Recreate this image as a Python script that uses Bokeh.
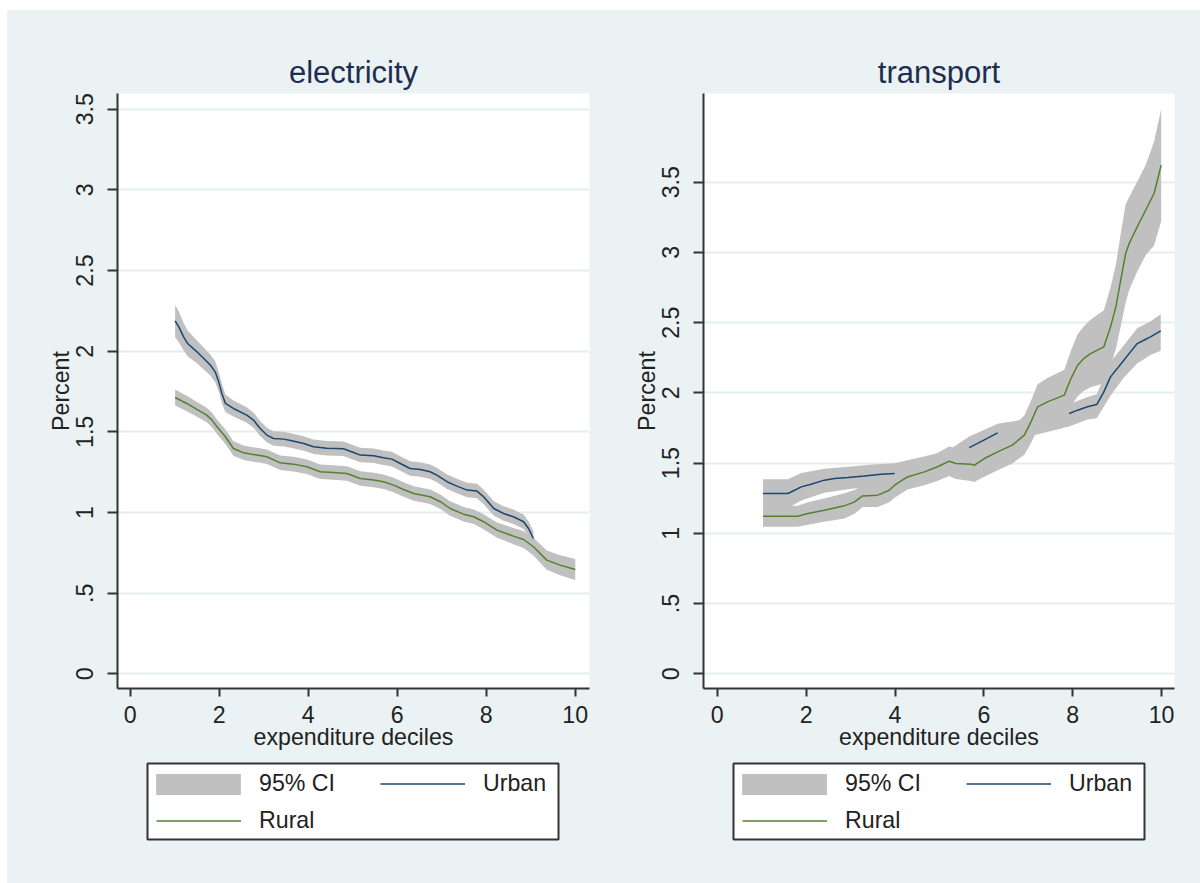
from bokeh.plotting import figure
from bokeh.models import Range1d, FixedTicker, Legend, LegendItem, Spacer
from bokeh.layouts import column, row
from bokeh.embed import file_html
from bokeh.resources import INLINE

# ---------------- data ----------------
x_ticks = [0, 2, 4, 6, 8, 10]
y_ticks = [0, 0.5, 1, 1.5, 2, 2.5, 3, 3.5]
y_tick_labels = ["0", ".5", "1", "1.5", "2", "2.5", "3", "3.5"]

panel_titles = ["electricity", "transport"]
x_label = "expenditure deciles"
y_label = "Percent"
legend_labels = ["95% CI", "Urban", "Rural"]

# electricity - urban
elec_urban_x = [1.01, 1.09, 1.20, 1.29, 1.50, 1.80, 1.91, 1.99, 2.06, 2.14, 2.32, 2.62, 2.77,
                2.92, 3.07, 3.22, 3.45, 3.63, 3.90, 4.12, 4.42, 4.79, 5.02, 5.17, 5.47, 5.69,
                5.88, 6.07, 6.29, 6.52, 6.74, 6.89, 7.12, 7.34, 7.57, 7.79, 7.94, 8.17, 8.39,
                8.61, 8.84, 8.95, 9.06]
elec_urban_y = [2.187, 2.152, 2.089, 2.048, 1.996, 1.914, 1.872, 1.810, 1.738, 1.676, 1.645, 1.604, 1.573,
                1.521, 1.480, 1.459, 1.455, 1.445, 1.428, 1.408, 1.399, 1.395, 1.372, 1.356, 1.352, 1.339,
                1.331, 1.304, 1.273, 1.267, 1.253, 1.232, 1.191, 1.164, 1.139, 1.133, 1.098, 1.025, 0.994,
                0.974, 0.943, 0.901, 0.839]
elec_urban_ci = [0.100, 0.095, 0.085, 0.080, 0.070, 0.065, 0.065, 0.060, 0.060, 0.055, 0.050, 0.048, 0.047,
                 0.046, 0.045, 0.045, 0.045, 0.045, 0.045, 0.045, 0.045, 0.045, 0.045, 0.045, 0.045, 0.045,
                 0.045, 0.045, 0.045, 0.045, 0.045, 0.045, 0.045, 0.045, 0.045, 0.045, 0.045, 0.045, 0.045,
                 0.045, 0.045, 0.045, 0.045]

# electricity - rural
elec_rural_x = [1.01, 1.27, 1.50, 1.72, 1.84, 1.95, 2.14, 2.32, 2.55, 2.85, 3.07, 3.37, 3.67, 3.97,
                4.27, 4.57, 4.87, 5.17, 5.47, 5.69, 5.92, 6.14, 6.37, 6.74, 6.97, 7.19, 7.49, 7.72,
                7.94, 8.24, 8.61, 8.84, 9.06, 9.36, 9.66, 10.0]
elec_rural_y = [1.713, 1.676, 1.639, 1.604, 1.573, 1.532, 1.470, 1.397, 1.370, 1.356, 1.346, 1.308, 1.300, 1.284,
                1.253, 1.248, 1.242, 1.211, 1.201, 1.191, 1.170, 1.143, 1.118, 1.098, 1.067, 1.025, 0.990, 0.974,
                0.943, 0.891, 0.854, 0.833, 0.788, 0.705, 0.674, 0.647]
elec_rural_ci = [0.050, 0.048, 0.046, 0.045, 0.045, 0.045, 0.045, 0.045, 0.045, 0.045, 0.045, 0.045, 0.045, 0.045,
                 0.045, 0.045, 0.045, 0.045, 0.045, 0.045, 0.045, 0.045, 0.045, 0.045, 0.045, 0.045, 0.045, 0.045,
                 0.046, 0.048, 0.050, 0.052, 0.055, 0.060, 0.062, 0.065]

nan = float("nan")
# transport - urban (line has gaps)
tr_urban_x = [1.03, 1.59, 1.74, 1.89, 2.11, 2.41, 2.64, 2.94, 3.31, 3.69, 3.99, nan,
              5.67, 6.00, 6.31, nan,
              7.92, 8.11, 8.33, 8.54, 8.70, 8.85, 9.00, 9.15, 9.30, 9.45, 9.60, 9.75, 9.98]
tr_urban_y = [1.284, 1.284, 1.307, 1.331, 1.350, 1.379, 1.391, 1.398, 1.409, 1.421, 1.426, nan,
              1.611, 1.664, 1.716, nan,
              1.853, 1.877, 1.901, 1.917, 2.007, 2.114, 2.173, 2.233, 2.292, 2.351, 2.375, 2.399, 2.441]
tr_urban_band_x = [1.03, 1.59, 1.89, 2.41, 2.94, 3.50, 3.99, 4.70, 5.20, 5.67, 6.31, 6.90, 7.40,
                   7.92, 8.33, 8.54, 8.85, 9.15, 9.45, 9.75, 9.98]
tr_urban_lo = [1.18, 1.18, 1.235, 1.29, 1.315, 1.335, 1.35, 1.40, 1.45, 1.53, 1.64, 1.68, 1.72,
               1.76, 1.81, 1.82, 1.98, 2.11, 2.21, 2.27, 2.30]
tr_urban_hi = [1.385, 1.385, 1.43, 1.46, 1.475, 1.49, 1.50, 1.55, 1.59, 1.69, 1.78, 1.81, 1.83,
               1.92, 1.97, 1.99, 2.22, 2.34, 2.46, 2.51, 2.56]

# transport - rural
tr_rural_x = [1.03, 1.81, 2.04, 2.41, 2.86, 3.09, 3.27, 3.61, 3.87, 3.99, 4.28, 4.66, 4.96,
              5.22, 5.37, 5.71, 5.78, 6.01, 6.31, 6.64, 6.91, 7.06, 7.21, 7.43, 7.81, 7.96,
              8.11, 8.25, 8.40, 8.70, 8.85, 8.97, 9.08, 9.19, 9.27, 9.45, 9.64, 9.83, 9.99]
tr_rural_y = [1.122, 1.122, 1.141, 1.165, 1.196, 1.224, 1.267, 1.272, 1.307, 1.343, 1.402, 1.438, 1.474,
              1.514, 1.497, 1.493, 1.485, 1.533, 1.580, 1.628, 1.699, 1.794, 1.901, 1.936, 1.984, 2.102,
              2.197, 2.245, 2.280, 2.328, 2.470, 2.612, 2.802, 2.992, 3.063, 3.182, 3.300, 3.419, 3.621]
tr_rural_ci = [0.075, 0.075, 0.080, 0.083, 0.090, 0.085, 0.080, 0.085, 0.085, 0.090, 0.090, 0.095, 0.100,
               0.105, 0.110, 0.120, 0.120, 0.130, 0.130, 0.130, 0.140, 0.150, 0.160, 0.170, 0.180, 0.200,
               0.220, 0.230, 0.240, 0.260, 0.280, 0.300, 0.330, 0.350, 0.330, 0.320, 0.320, 0.370, 0.400]

# ---------------- style ----------------
BG = "#eaf2f3"
GRID = "#e4eef0"
BAND = "#c0c0c0"
URBAN = "#1a476f"
RURAL = "#55802f"
AXIS = "#333333"
TXT = "#222222"
TITLE = "#1f2d50"
FONT = "Liberation Sans"
FS = "23.2px"


def lo_hi(y, ci):
    return [a - b for a, b in zip(y, ci)], [a + b for a, b in zip(y, ci)]


def make_panel(title, xr, yr, width, mb_left, mb_right):
    p = figure(width=width, height=750, x_range=Range1d(*xr), y_range=Range1d(*yr),
               output_backend="svg", toolbar_location=None, title=title,
               min_border_left=mb_left, min_border_right=mb_right,
               min_border_top=83, min_border_bottom=72)
    p.frame_align = False
    p.background_fill_color = "white"
    p.border_fill_color = BG
    p.outline_line_color = None
    p.title.align = "center"
    p.title.text_font = FONT
    p.title.text_font_size = "31px"
    p.title.text_font_style = "normal"
    p.title.text_color = TITLE
    p.title.standoff = 8

    p.xaxis.ticker = FixedTicker(ticks=x_ticks)
    p.yaxis.ticker = FixedTicker(ticks=y_ticks)
    p.yaxis.major_label_overrides = {t: l for t, l in zip(y_ticks, y_tick_labels)}
    p.yaxis.major_label_orientation = "vertical"
    p.xaxis.axis_label = x_label
    p.yaxis.axis_label = y_label
    for ax in (p.xaxis, p.yaxis):
        ax.axis_line_color = AXIS
        ax.axis_line_width = 2
        ax.major_tick_line_color = AXIS
        ax.major_tick_line_width = 2
        ax.major_tick_in = 0
        ax.minor_tick_line_color = None
        ax.major_label_text_font = FONT
        ax.major_label_text_font_size = FS
        ax.major_label_text_color = TXT
        ax.axis_label_text_font = FONT
        ax.axis_label_text_font_size = FS
        ax.axis_label_text_font_style = "normal"
        ax.axis_label_text_color = TXT
    p.xaxis.major_tick_out = 8
    p.yaxis.major_tick_out = 10
    p.xaxis.major_label_standoff = 9
    p.yaxis.major_label_standoff = 14
    p.xaxis.axis_label_standoff = -2
    p.yaxis.axis_label_standoff = 0
    p.xgrid.visible = False
    p.ygrid.grid_line_color = GRID
    p.ygrid.grid_line_width = 2
    return p


def make_legend_fig(width, mb_left, mb_right):
    # the frame of this small figure is the legend box
    lg = figure(width=width, height=123, x_range=Range1d(0, 1), y_range=Range1d(0, 1),
                x_axis_type=None, y_axis_type=None, output_backend="svg",
                toolbar_location=None, min_border_left=mb_left, min_border_right=mb_right,
                min_border_top=3, min_border_bottom=44)
    lg.frame_align = False
    lg.background_fill_color = "white"
    lg.border_fill_color = BG
    lg.outline_line_color = AXIS
    lg.outline_line_width = 2
    r_ci = lg.varea(x=[nan, nan], y1=[nan, nan], y2=[nan, nan], fill_color=BAND)
    r_u = lg.line(x=[nan, nan], y=[nan, nan], line_color=URBAN, line_width=1.5)
    r_r = lg.line(x=[nan, nan], y=[nan, nan], line_color=RURAL, line_width=1.5)
    common = dict(margin=0, padding=0, label_text_font=FONT, label_text_font_size=FS,
                  label_text_color=TXT, border_line_color=None, background_fill_alpha=0,
                  orientation="vertical")
    leg_ci = Legend(items=[LegendItem(label=legend_labels[0], renderers=[r_ci])],
                    location=(-2, 42), glyph_width=106, glyph_height=26, label_height=26,
                    label_standoff=8, **common)
    leg_u = Legend(items=[LegendItem(label=legend_labels[1], renderers=[r_u])],
                   location=(233, 42), glyph_width=85, glyph_height=27, label_height=27,
                   label_standoff=18, **common)
    leg_r = Legend(items=[LegendItem(label=legend_labels[2], renderers=[r_r])],
                   location=(9, 5), glyph_width=85, glyph_height=27, label_height=27,
                   label_standoff=18, **common)
    for lgd in (leg_ci, leg_u, leg_r):
        lg.add_layout(lgd)
    return lg


# left panel: electricity
pL = make_panel(panel_titles[0], (-0.285, 10.32), (-0.0905, 3.597), 623, 110, 41)
lo, hi = lo_hi(elec_urban_y, elec_urban_ci)
pL.varea(x=elec_urban_x, y1=lo, y2=hi, fill_color=BAND)
lo, hi = lo_hi(elec_rural_y, elec_rural_ci)
pL.varea(x=elec_rural_x, y1=lo, y2=hi, fill_color=BAND)
pL.line(elec_urban_x, elec_urban_y, line_color=URBAN, line_width=1.5)
pL.line(elec_rural_x, elec_rural_y, line_color=RURAL, line_width=1.5)

# right panel: transport
pR = make_panel(panel_titles[1], (-0.31, 10.29), (-0.104, 4.131), 570, 72, 26)
pR.varea(x=tr_urban_band_x, y1=tr_urban_lo, y2=tr_urban_hi, fill_color=BAND)
lo, hi = lo_hi(tr_rural_y, tr_rural_ci)
pR.varea(x=tr_rural_x, y1=lo, y2=hi, fill_color=BAND)
pR.line(tr_urban_x, tr_urban_y, line_color=URBAN, line_width=1.5)
pR.line(tr_rural_x, tr_rural_y, line_color=RURAL, line_width=1.5)

legL = make_legend_fig(623, 140, 72)
legR = make_legend_fig(570, 103, 56)

inner = row(column(pL, legL, spacing=0), column(pR, legR, spacing=0),
            spacing=0, styles={"background-color": BG})
layout = column(Spacer(height=10), row(Spacer(width=7), inner, spacing=0), spacing=0)

open("out.html", "w").write(file_html(layout, INLINE))
